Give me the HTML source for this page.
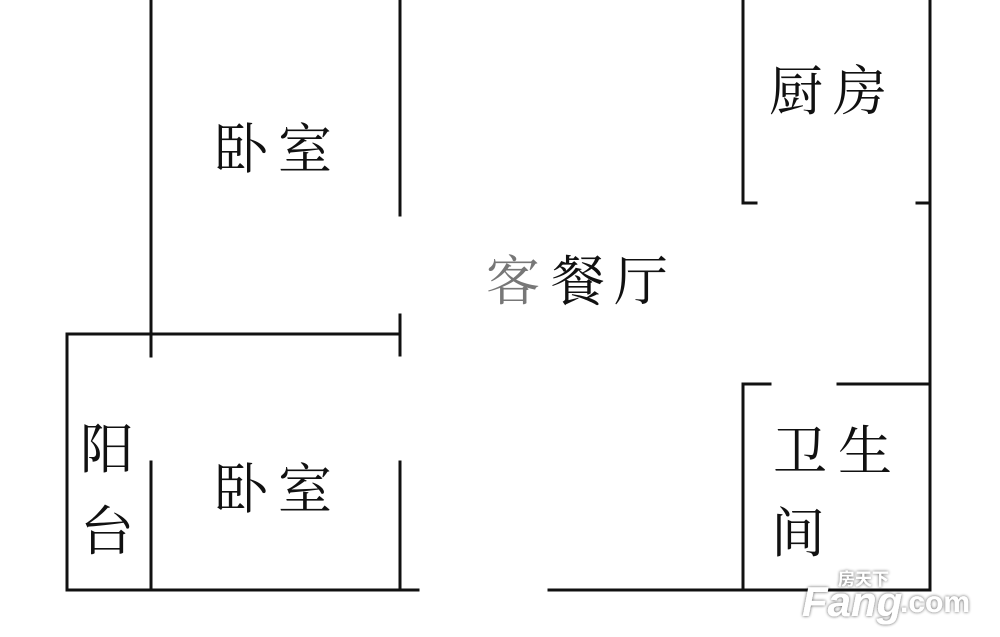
<!DOCTYPE html>
<html><head><meta charset="utf-8"><style>
html,body{margin:0;padding:0;background:#fff;}
svg{display:block;}
text.c{font-family:"Noto Serif CJK SC","Liberation Serif",serif;fill:#111;}
</style></head><body>
<svg width="1000" height="637" viewBox="0 0 1000 637" xmlns="http://www.w3.org/2000/svg">
<defs><filter id="sh" x="-20%" y="-50%" width="140%" height="200%"><feGaussianBlur in="SourceAlpha" stdDeviation="1.5"/><feComponentTransfer><feFuncA type="linear" slope="0.7"/></feComponentTransfer><feMerge><feMergeNode/><feMergeNode in="SourceGraphic"/></feMerge></filter></defs>
<g stroke="#111" stroke-width="3" fill="none" stroke-linecap="square">
<line x1="151" y1="0" x2="151" y2="356"/>
<line x1="151" y1="462" x2="151" y2="590"/>
<line x1="67" y1="334" x2="67" y2="590"/>
<line x1="67" y1="334" x2="400" y2="334"/>
<line x1="400" y1="0" x2="400" y2="215"/>
<line x1="400" y1="315" x2="400" y2="355"/>
<line x1="400" y1="462" x2="400" y2="590"/>
<line x1="67" y1="590" x2="418" y2="590"/>
<line x1="549" y1="590" x2="930" y2="590"/>
<line x1="930" y1="0" x2="930" y2="590"/>
<line x1="743" y1="0" x2="743" y2="203"/>
<line x1="743" y1="203" x2="756" y2="203"/>
<line x1="917" y1="203" x2="930" y2="203"/>
<line x1="743" y1="384" x2="743" y2="590"/>
<line x1="743" y1="384" x2="770" y2="384"/>
<line x1="838" y1="384" x2="930" y2="384"/>
</g>
<g font-size="54">
<text class="c" x="214" y="168">卧</text><text class="c" x="278" y="168">室</text>
<text class="c" x="214" y="508">卧</text><text class="c" x="278" y="508">室</text>
<text class="c" x="486" y="300" style="fill:#777">客</text><text class="c" x="551" y="300">餐</text><text class="c" x="614" y="300">厅</text>
<text class="c" x="769" y="110">厨</text><text class="c" x="833" y="110">房</text>
<text class="c" x="80" y="468">阳</text><text class="c" x="80" y="550">台</text>
<text class="c" x="773" y="470">卫</text><text class="c" x="838" y="470">生</text>
<text class="c" x="771" y="552">间</text>
</g>
<g filter="url(#sh)">
<text x="838" y="585" style="font-family:'Noto Sans CJK SC',sans-serif;font-size:17px;font-weight:bold;fill:#fff">房天下</text>
<text x="802" y="616" style="font-family:'Liberation Sans',sans-serif;font-size:42px;font-weight:bold;font-style:italic;fill:#fff">Fang</text>
<text x="900" y="612" style="font-family:'Liberation Sans',sans-serif;font-size:30px;font-weight:bold;fill:#fff">.com</text>
</g>
</svg>
</body></html>
